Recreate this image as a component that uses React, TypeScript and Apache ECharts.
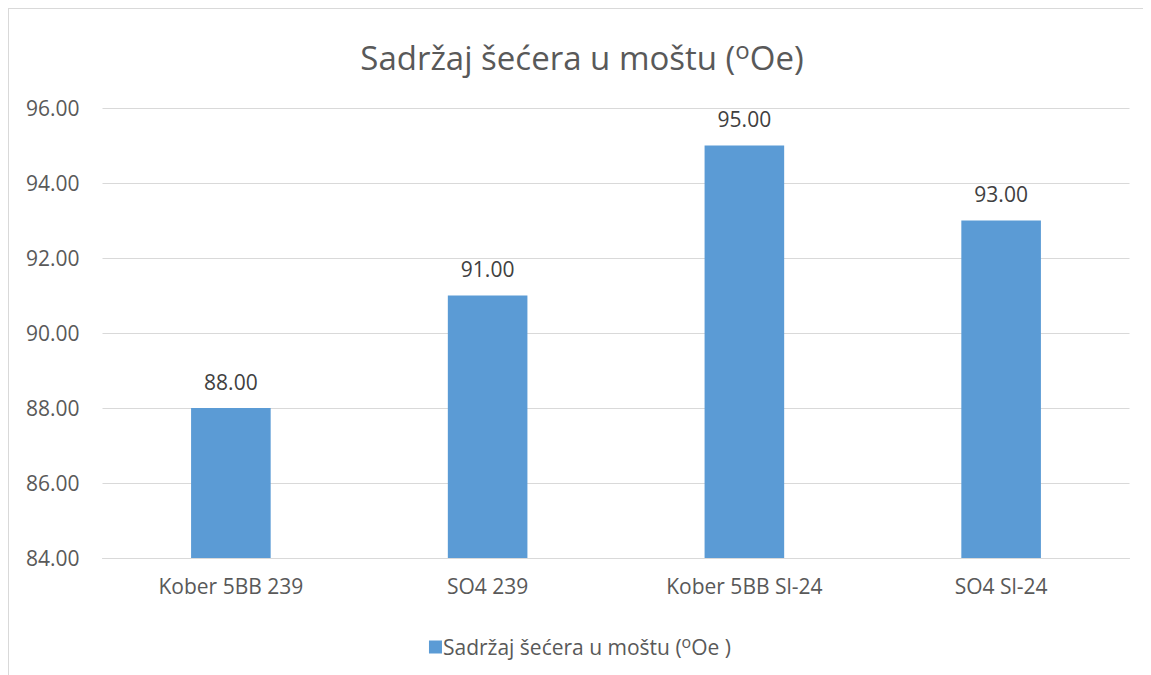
import React, { useEffect, useRef } from "react";
import * as echarts from "echarts";

const categories = ["Kober 5BB 239", "SO4 239", "Kober 5BB Sl-24", "SO4 Sl-24"];
const values = [88, 91, 95, 93];
const seriesName = "Sadržaj šećera u moštu (oOe )";
const titleRich = "Sadržaj šećera u moštu ({s|o}Oe)";
const legendRich = "Sadržaj šećera u moštu ({s|o}Oe )";

const FONT = "'Open Sans', 'Noto Sans', sans-serif";

export default function App() {
  const ref = useRef<HTMLDivElement>(null);
  useEffect(() => {
    document.body.style.overflow = "hidden";
    const chart = echarts.init(ref.current!, null, { renderer: "svg" });
    chart.setOption({
      animation: false,
      textStyle: { fontFamily: FONT },
      title: {
        text: titleRich,
        left: 568,
        textAlign: "center",
        top: 23,
        textStyle: {
          fontFamily: FONT,
          fontSize: 33,
          fontWeight: "normal",
          color: "#595959",
          rich: {
            s: { fontFamily: FONT, fontSize: 24, color: "#595959", padding: [0, 0, 16, 0] },
          },
        },
      },
      legend: {
        data: [seriesName],
        left: "center",
        top: 620,
        icon: "rect",
        itemWidth: 13,
        itemHeight: 13,
        itemGap: 5,
        formatter: () => legendRich,
        textStyle: {
          fontFamily: FONT,
          fontSize: 21,
          color: "#595959",
          padding: [0, 0, 0, -4],
          rich: {
            s: { fontFamily: FONT, fontSize: 16, color: "#595959", padding: [0, 0, 10, 0] },
          },
        },
      },
      grid: { left: 93.5, right: 21.5, top: 99, bottom: 117 },
      xAxis: {
        type: "category",
        data: categories,
        axisLine: { lineStyle: { color: "#d9d9d9" } },
        axisTick: { show: false },
        axisLabel: { fontFamily: FONT, fontSize: 21, color: "#595959", margin: 17 },
      },
      yAxis: {
        type: "value",
        min: 84,
        max: 96,
        interval: 2,
        axisLine: { show: false },
        axisTick: { show: false },
        splitLine: { lineStyle: { color: "#d9d9d9", width: 1 } },
        axisLabel: {
          fontFamily: FONT,
          fontSize: 21,
          color: "#595959",
          margin: 23,
          formatter: (v: number) => v.toFixed(2),
        },
      },
      series: [
        {
          name: seriesName,
          type: "bar",
          data: values,
          barWidth: "31%",
          itemStyle: { color: "#5b9bd5" },
          label: {
            show: true,
            position: "top",
            distance: 16,
            fontFamily: FONT,
            fontSize: 21,
            color: "#404040",
            formatter: (p: any) => Number(p.value).toFixed(2),
          },
        },
      ],
    });
    return () => chart.dispose();
  }, []);
  return (
    <div
      ref={ref}
      style={{
        width: 1143,
        height: 667,
        borderTop: "1px solid #d9d9d9",
        borderLeft: "1px solid #d9d9d9",
        boxSizing: "border-box",
      }}
    />
  );
}
